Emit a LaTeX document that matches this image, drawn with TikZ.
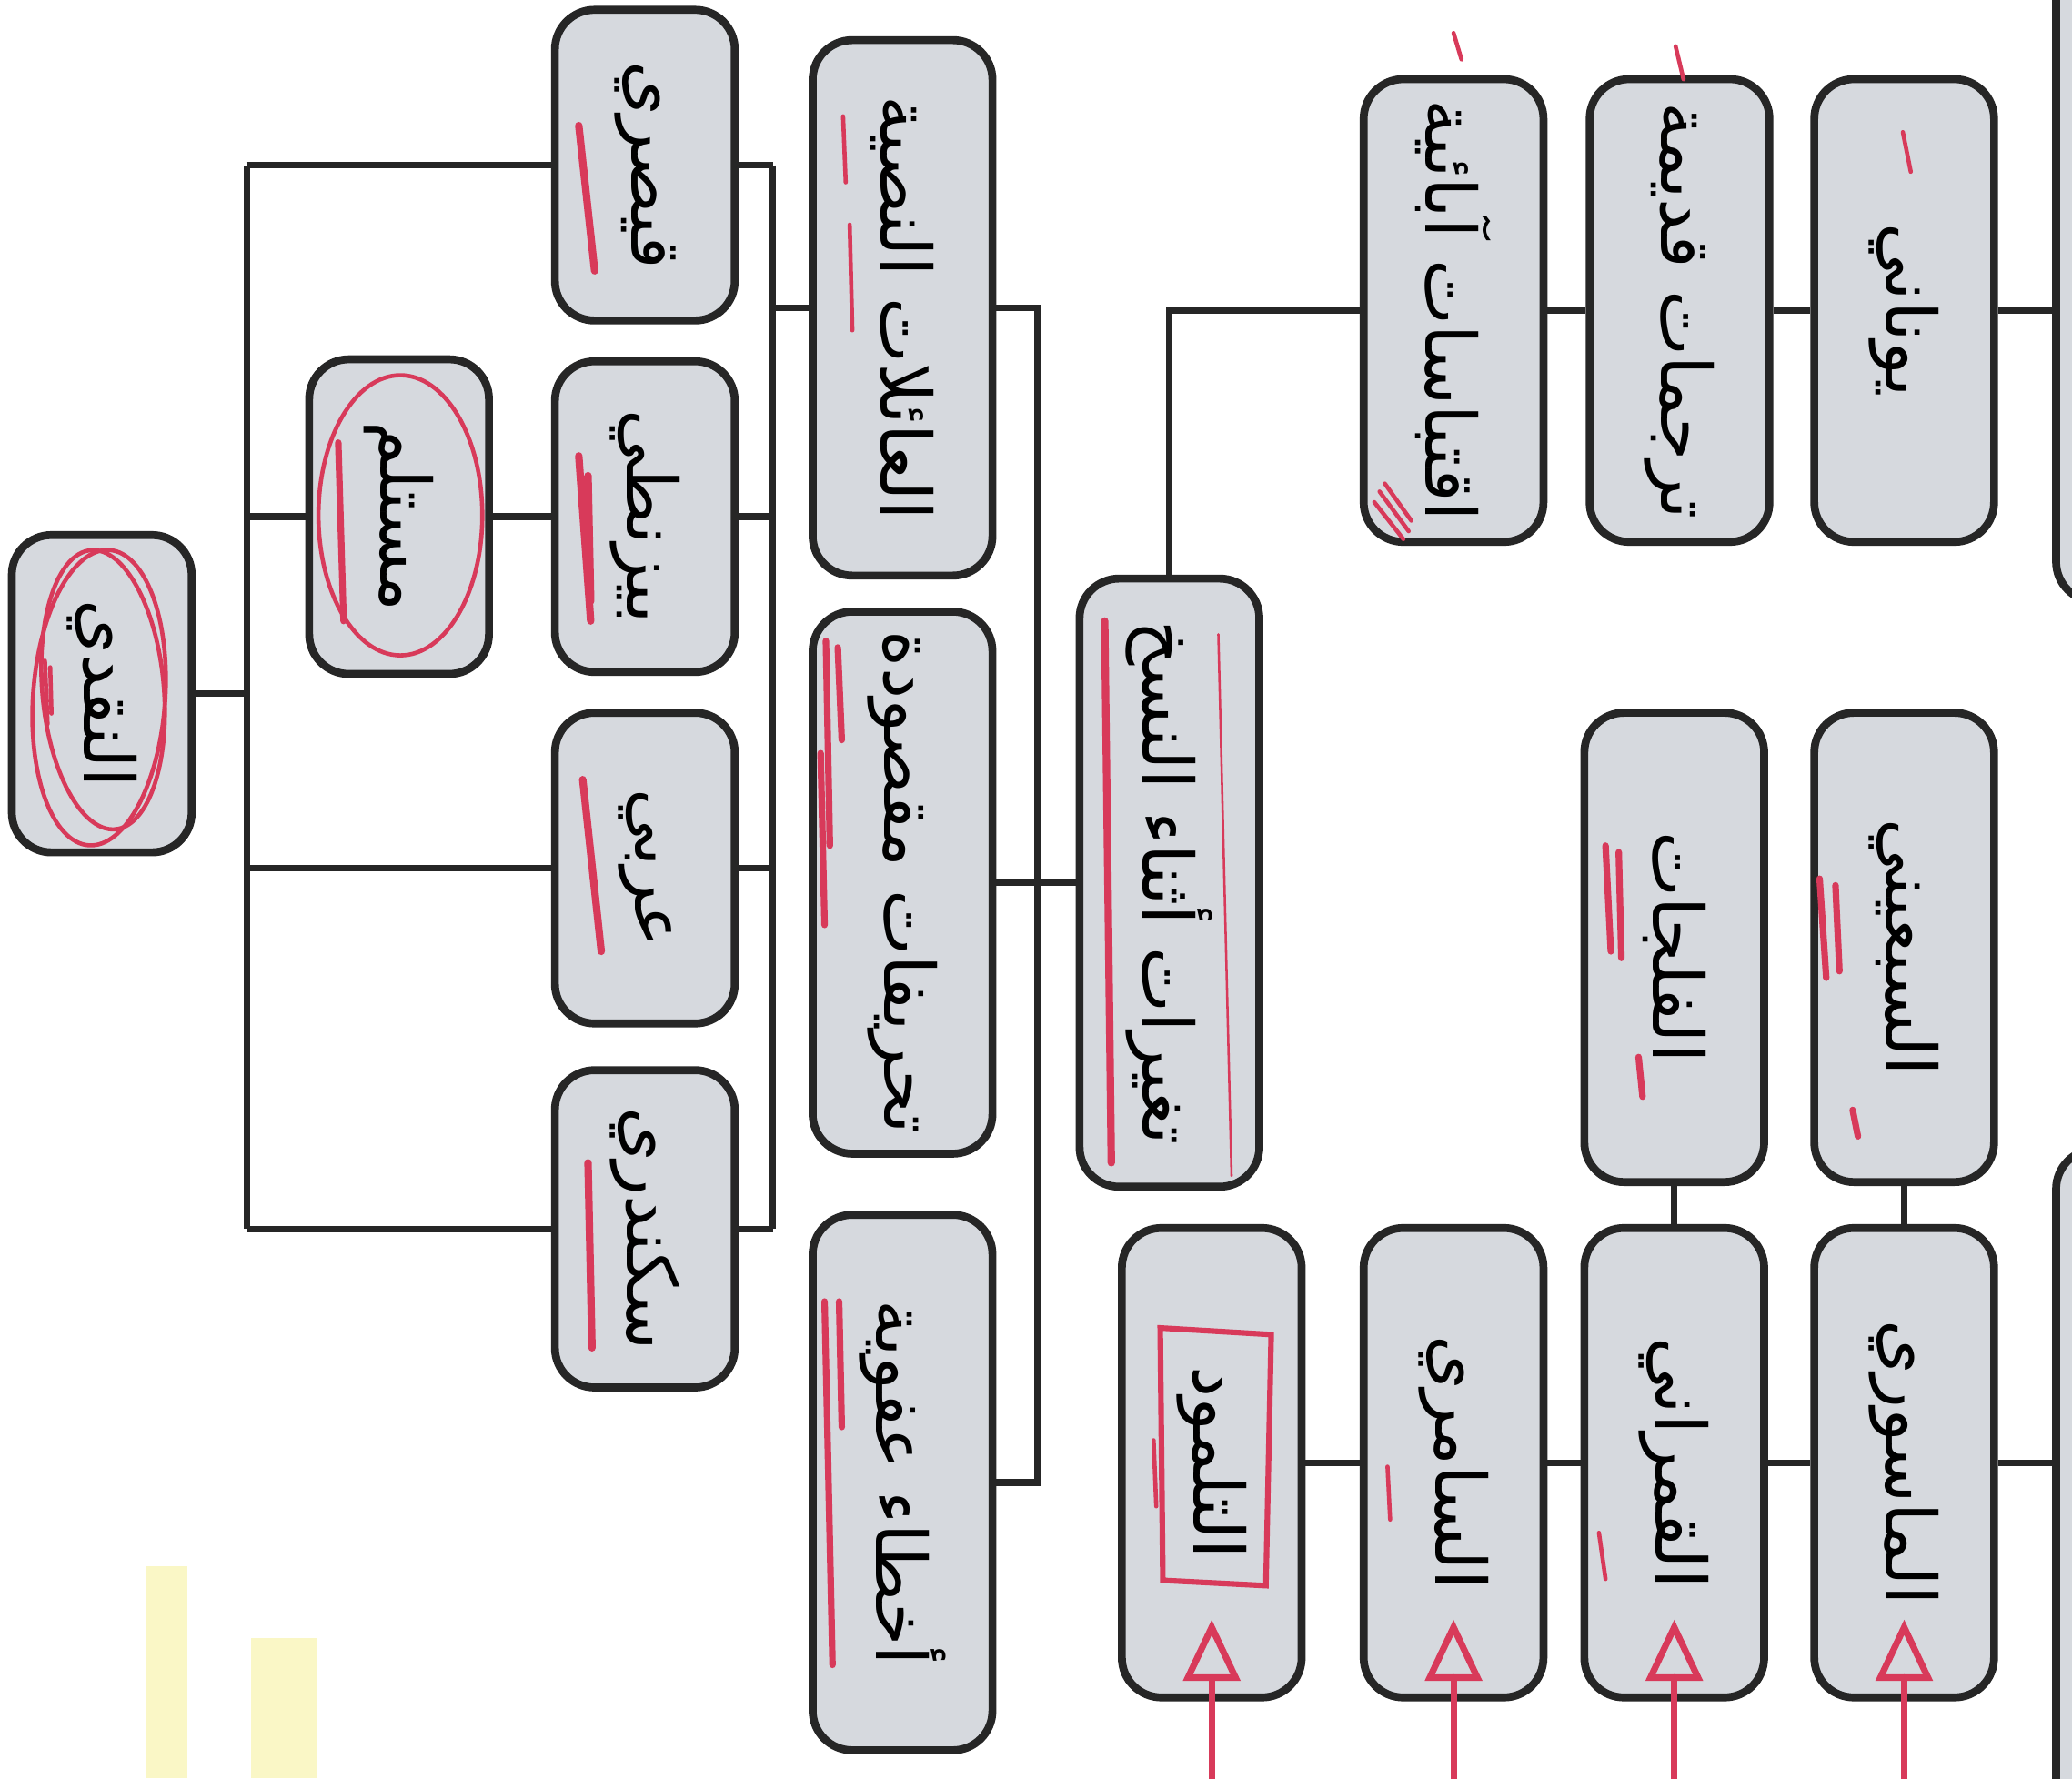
\documentclass[tikz,border=0pt]{standalone}
\usepackage{fontspec}
\usetikzlibrary{calc}
\newfontfamily\arabicfont[Script=Arabic]{DejaVu Sans}
\TeXXeTstate=1
\definecolor{boxfill}{HTML}{D6D9DE}
\definecolor{boxline}{HTML}{262626}
\definecolor{redink}{HTML}{D83A5A}
\definecolor{marker}{HTML}{FAF7C6}
\newcommand{\artext}[1]{\beginR #1\endR}

\begin{document}
\begin{tikzpicture}[
		x=0.01cm, y=-0.01cm,
		box/.style={draw=boxline, fill=boxfill, line width=1.7pt, rounded corners=0.3cm,
			rotate=-90, minimum height=1.36cm, inner sep=2pt,
			font=\arabicfont\fontsize{15}{18}\selectfont},
		link/.style={draw=boxline, line width=1.4pt},
		ink/.style={draw=redink, line width=0.9pt, line cap=round}
		]
		
		\useasboundingbox[fill=white] (0,0) rectangle (1568,1346);
		\clip (0,0) rectangle (1568,1346);
		
		% Highlighted margin note
		\fill[marker] (110,1185) rectangle (142,1346);
		\fill[marker] (190,1240) rectangle (240,1346);
		
		% Root and manuscript types
		\node[box, minimum width=2.40cm] (naqdi) at (77,525) {\artext{النقدي}};
		\node[box, minimum width=2.38cm] (mustalam) at (302,391) {\artext{مستلم}};
		\node[box, minimum width=2.35cm] (qaysari) at (488,125) {\artext{قيصري}};
		\node[box, minimum width=2.35cm] (bizanti) at (488,391) {\artext{بيزنطي}};
		\node[box, minimum width=2.35cm] (arabi) at (488,657) {\artext{عربي}};
		\node[box, minimum width=2.40cm] (sakandari) at (488,930) {\artext{سكندري}};
		
		% Families and errors
		\node[box, minimum width=4.05cm] (families) at (683,233) {\artext{العائلات النصية}};
		\node[box, minimum width=4.10cm] (tahrif) at (683,668) {\artext{تحريفات مقصودة}};
		\node[box, minimum width=4.05cm] (akhta) at (683,1122) {\artext{أخطاء عفوية}};
		\node[box, minimum width=4.60cm] (copying) at (885,668) {\artext{تغيرات أثناء النسخ}};
		
		% Witnesses
		\node[box, minimum width=3.50cm] (iqtibas) at (1100,235) {\artext{اقتباسات آبائية}};
		\node[box, minimum width=3.50cm] (tarjamat) at (1271,235) {\artext{ترجمات قديمة}};
		\node[box, minimum width=3.50cm] (yunani) at (1441,235) {\artext{يوناني}};
		\node[box, minimum width=3.55cm] (fulgat) at (1267,717) {\artext{الفلجات}};
		\node[box, minimum width=3.55cm] (sabini) at (1441,717) {\artext{السبعيني}};
		\node[box, minimum width=3.55cm] (talmud) at (917,1107) {\artext{التلمود}};
		\node[box, minimum width=3.55cm] (samiri) at (1100,1107) {\artext{السامري}};
		\node[box, minimum width=3.55cm] (qumrani) at (1267,1107) {\artext{القمراني}};
		\node[box, minimum width=3.55cm] (masuri) at (1441,1107) {\artext{الماسوري}};
		\node[box, minimum width=5.60cm] (cutTop) at (1624,175) {};
		\node[box, minimum width=5.80cm] (cutBottom) at (1624,1160) {};
		
		% Links
		\coordinate (trunkA) at (187,0);
		\coordinate (trunkB) at (585,0);
		\coordinate (trunkC) at (785,0);
		\draw[link] (naqdi) -- (naqdi -| trunkA);
		\draw[link] (qaysari -| trunkA) -- (sakandari -| trunkA);
		\foreach \n in {qaysari, arabi, sakandari}
		\draw[link] (\n -| trunkA) -- (\n);
		\draw[link] (mustalam -| trunkA) -- (mustalam);
		\draw[link] (mustalam) -- (bizanti);
		\foreach \n in {qaysari, bizanti, arabi, sakandari}
		\draw[link] (\n) -- (\n -| trunkB);
		\draw[link] (qaysari -| trunkB) -- (sakandari -| trunkB);
		\draw[link] (families -| trunkB) -- (families);
		\draw[link] (families) -- (families -| trunkC) -- (akhta -| trunkC) -- (akhta);
		\draw[link] (tahrif) -- (copying);
		\draw[link] (copying) |- (iqtibas);
		\draw[link] (iqtibas) -- (tarjamat);
		\draw[link] (tarjamat) -- (yunani);
		\draw[link] (yunani) -- (yunani -| cutTop.south);
		\draw[link] (talmud) -- (samiri);
		\draw[link] (samiri) -- (qumrani);
		\draw[link] (qumrani) -- (masuri);
		\draw[link] (masuri) -- (masuri -| cutBottom.south);
		\draw[link] (fulgat) -- (qumrani);
		\draw[link] (sabini) -- (masuri);
		
		% Red pen marks
		\draw[ink] (75,528) ellipse [x radius=50, y radius=112, rotate=-4];
		\draw[ink] (78,522) ellipse [x radius=46, y radius=106, rotate=5];
		\draw[ink] (303,390) ellipse [x radius=62, y radius=106];
		\draw[ink, line width=1.2pt] (878,1005) -- (962,1010) -- (958,1200) -- (880,1196) -- cycle;
		\draw[ink] (34,500) -- (36,548) (38,505) -- (39,540);
		\draw[ink, line width=1.4pt] (256,335) -- (260,470);
		\draw[ink, line width=1.6pt] (438,95) -- (450,205);
		\draw[ink, line width=1.6pt] (438,345) -- (447,470) (445,360) -- (447,455);
		\draw[ink, line width=1.6pt] (441,590) -- (455,720);
		\draw[ink, line width=1.6pt] (445,880) -- (448,1020);
		\draw[ink] (638,88) -- (640,138) (643,170) -- (645,250);
		\draw[ink, line width=1.4pt] (625,485) -- (628,640) (634,490) -- (637,560) (621,570) -- (624,700);
		\draw[ink, line width=1.4pt] (624,985) -- (630,1260) (635,985) -- (637,1080);
		\draw[ink, line width=1.6pt] (836,470) -- (841,880);
		\draw[ink, line width=0.5pt] (922,480) -- (932,890);
		\draw[ink, line width=1.4pt] (1215,640) -- (1219,720) (1225,645) -- (1227,725) (1240,800) -- (1243,830);
		\draw[ink, line width=1.4pt] (1377,665) -- (1382,740) (1389,670) -- (1392,735) (1402,840) -- (1406,860);
		\draw[ink] (1050,1110) -- (1052,1150) (1210,1160) -- (1215,1195) (873,1090) -- (875,1140);
		\draw[ink] (1100,25) -- (1106,45) (1268,35) -- (1274,60) (1440,100) -- (1446,130);
		\draw[ink] (1040,380) -- (1062,408) (1044,372) -- (1066,402) (1048,366) -- (1068,394);
		\foreach \n in {talmud, samiri, qumrani, masuri}{
			\draw[ink, line width=1.4pt] ($(\n.east)+(0,62)$) -- ($(\n.east)+(0,-18)$);
			\draw[ink, line width=1.4pt] ($(\n.east)+(0,-56)$) -- ($(\n.east)+(-18,-18)$) -- ($(\n.east)+(18,-18)$) -- cycle;
		}
		
	\end{tikzpicture}
\end{document}
